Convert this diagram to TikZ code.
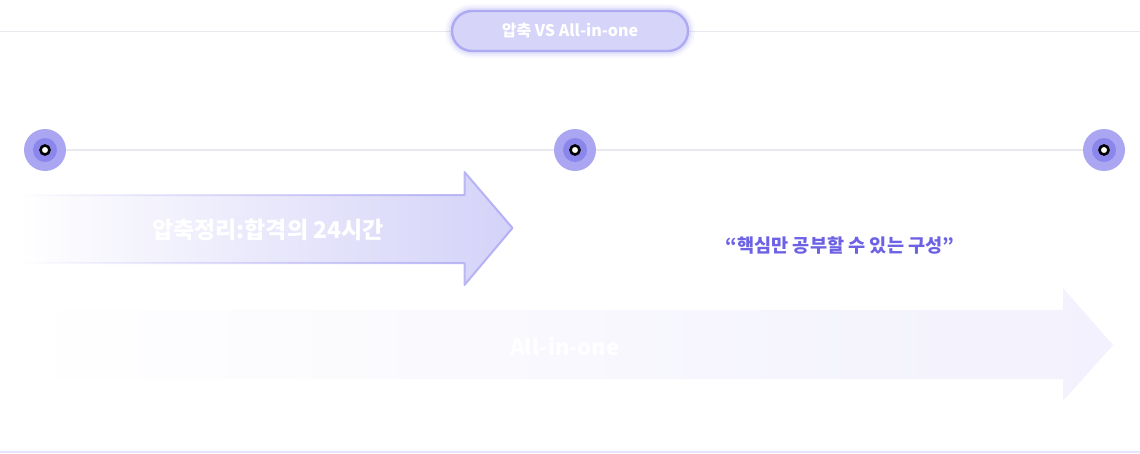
\documentclass[tikz,border=0pt]{standalone}
\usepackage{fontspec}
\setmainfont{Noto Sans CJK KR}
\usetikzlibrary{fadings}
\definecolor{linegray}{HTML}{E8E8EE}
\definecolor{pillfill}{HTML}{D6D4F9}
\definecolor{pillborder}{HTML}{ADA9F3}
\definecolor{dotouter}{HTML}{AAA6F2}
\definecolor{dotinner}{HTML}{8A86EC}
\definecolor{arrowone}{HTML}{D4D2F8}
\definecolor{arrowedge}{HTML}{B4B0F4}
\definecolor{arrowtwo}{HTML}{F2F1FD}
\definecolor{quotecol}{HTML}{6D62E4}
\definecolor{bottomline}{HTML}{E6E4FB}
\tikzset{
  dotouterst/.style={circle, fill=dotouter, minimum size=42pt, inner sep=0pt},
  dotinnerst/.style={circle, fill=dotinner, minimum size=24pt, inner sep=0pt},
  dotcore/.style={circle, fill=white, draw=black, line width=2.6pt, minimum size=9pt, inner sep=0pt},
  txt/.style={inner sep=0pt, text=white, font=\bfseries}
}
\begin{document}
\begin{tikzpicture}[x=1pt,y=-1pt]
\useasboundingbox (0,0) rectangle (1140,453);
% top line
\coordinate (tl) at (0,31);
\coordinate (tr) at (1140,31);
\draw[linegray, line width=1pt] (tl) -- (tr);
% pill glow
\foreach \w/\o in {14/0.08,10/0.12,6/0.2}{
  \draw[pillborder, line width=\w pt, opacity=\o, rounded corners=20pt] (452,11) rectangle (688,51);
}
\draw[pillborder, fill=pillfill, line width=2.4pt, rounded corners=20pt] (452,11) rectangle (688,51);
\node[txt, font=\fontsize{16}{18}\selectfont\bfseries] (pill) at (570,31) {압축 VS All-in-one};
% timeline
\node[dotouterst] (d1) at (45,150) {};
\node[dotouterst] (d2) at (575,150) {};
\node[dotouterst] (d3) at (1104,150) {};
\draw[linegray, line width=1.2pt] (d1) -- (d2) -- (d3);
\foreach \n in {d1,d2,d3}{
  \node[dotinnerst] at (\n) {};
  \node[dotcore] at (\n) {};
}
% arrow 1
\path[left color=white, right color=arrowone, middle color=arrowone!50]
  (18,195) -- (465,195) -- (465,172) -- (513,228) -- (465,285) -- (465,263) -- (18,263) -- cycle;
\draw[arrowedge, line width=2pt, path fading=west, line join=round]
  (18,195) -- (465,195) -- (465,172) -- (513,228) -- (465,285) -- (465,263) -- (18,263);
\node[txt, font=\fontsize{23}{26}\selectfont\bfseries] (a1) at (268,230) {압축정리:합격의 24시간};
% quote
\node[inner sep=0pt, text=quotecol, font=\fontsize{18.6}{22}\selectfont\bfseries] (q) at (840,245) {“핵심만 공부할 수 있는 구성”};
% arrow 2
\path[left color=white, right color=arrowtwo]
  (18,310) -- (1063,310) -- (1063,288) -- (1113,345) -- (1063,401) -- (1063,379) -- (18,379) -- cycle;
\node[txt, font=\fontsize{22}{25}\selectfont\bfseries] (a2) at (565,347) {All-in-one};
% bottom line
\coordinate (bl) at (0,452);
\coordinate (br) at (1140,452);
\draw[bottomline, line width=1.5pt] (bl) -- (br);
\end{tikzpicture}
\end{document}
